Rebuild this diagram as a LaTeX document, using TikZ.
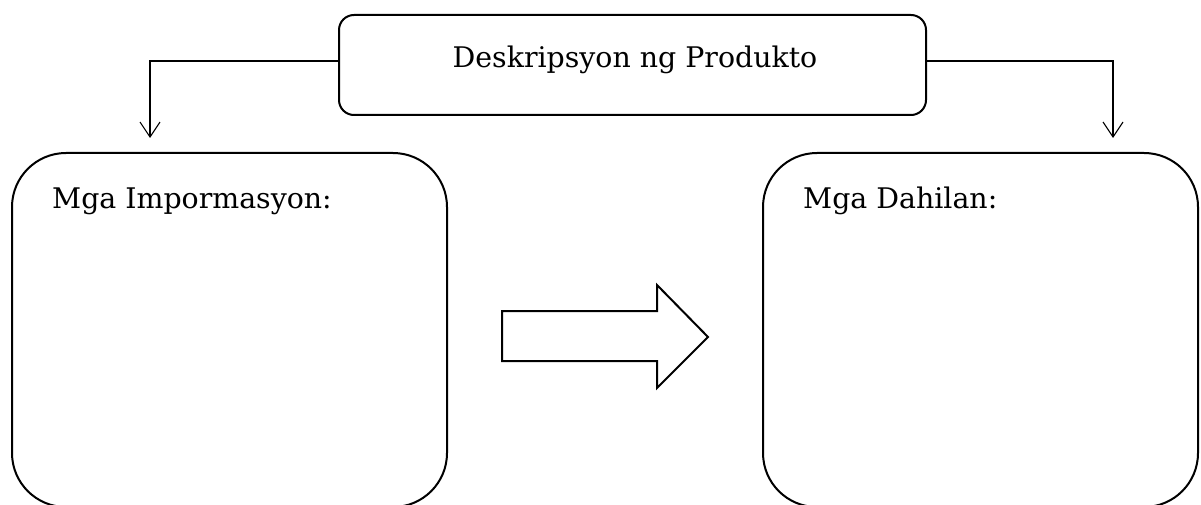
\documentclass[tikz,border=0pt]{standalone}
\usepackage{fontspec}
\setmainfont{DejaVu Serif}
\usetikzlibrary{arrows.meta}
\begin{document}
\begin{tikzpicture}[x=1pt,y=-1pt,
  box/.style={draw=black,line width=2pt,inner sep=0pt,fill=none},
  txt/.style={inner sep=0pt,font=\fontsize{28.4}{34}\selectfont},
  conn/.style={draw=black,line width=1.1pt,-{Straight Barb[length=15pt,width=20pt,line width=1.1pt]}}]
\useasboundingbox (0,0) rectangle (1201,505);
\node[box,rounded corners=15pt,minimum width=587pt,minimum height=100pt] (top) at (632.5,65) {};
\node[txt,anchor=base] (toptext) at (635,68) {Deskripsyon ng Produkto};
\node[box,rounded corners=54pt,minimum width=435pt,minimum height=354pt] (left) at (229.5,330) {};
\node[box,rounded corners=54pt,minimum width=435pt,minimum height=354pt] (right) at (980.5,330) {};
\node[txt,anchor=base west] (lefttext) at (52,208) {Mga Impormasyon:};
\node[txt,anchor=base west] (righttext) at (803,208) {Mga Dahilan:};
\coordinate (la) at (150,138);
\coordinate (ra) at (1113,138);
\draw[conn] ([yshift=4pt]top.west) -| (la);
\draw[conn] ([yshift=4pt]top.east) -| (ra);
\draw[line width=2pt,line join=miter] (502,311) -- (657,311) -- (657,285) -- (708,337) -- (657,388) -- (657,361) -- (502,361) -- cycle;
\end{tikzpicture}
\end{document}
